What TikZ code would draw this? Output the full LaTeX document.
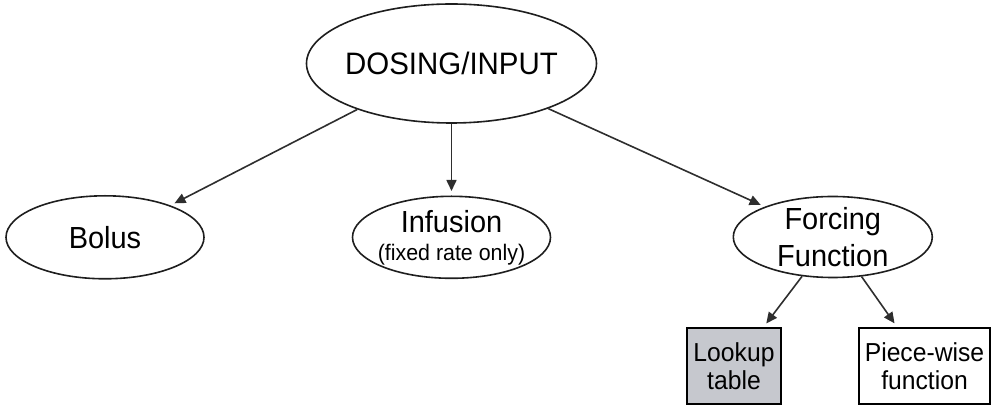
\documentclass[tikz,border=0pt]{standalone}
\usepackage{fontspec}
\setmainfont{Liberation Sans}[FakeStretch=0.95]
\usetikzlibrary{shapes.geometric,arrows.meta}
\definecolor{linec}{HTML}{1E1E1E}
\definecolor{arrc}{HTML}{2E2E2E}
\definecolor{lookfill}{HTML}{C6C8CE}
\tikzset{
  oval/.style={ellipse, draw=linec, line width=1.6pt, inner sep=-30pt, fill=white, align=center},
  sqbox/.style={rectangle, draw=black, line width=1.9pt, inner sep=0pt, align=center,
    minimum height=76pt},
  conn/.style={draw=arrc, line width=1.6pt, -{Triangle[length=11pt,width=10pt]}, shorten >=4.5pt},
  bigtxt/.style={font=\fontsize{31}{37}\selectfont},
  midtxt/.style={font=\fontsize{30.5}{37.5}\selectfont},
  boxtxt/.style={font=\fontsize{26}{28.5}\selectfont}
}
\begin{document}
\begin{tikzpicture}[x=1pt,y=-1pt]
\useasboundingbox (0,0) rectangle (996,411);
\node[oval, bigtxt, minimum width=290pt, minimum height=119pt] (dos) at (451.5,63.5) {DOSING/INPUT};
\node[oval, midtxt, minimum width=198pt, minimum height=83pt] (bol) at (105,237.3) {Bolus};
\node[oval, minimum width=198pt, minimum height=82pt, font=\fontsize{30.5}{30}\selectfont] (inf) at (451.5,237.3)
  {\raisebox{-2pt}{Infusion}\\\fontsize{22.5}{26.7}\selectfont (fixed rate only)};
\node[oval, midtxt, minimum width=199pt, minimum height=81pt] (ff) at (832.8,237) {Forcing\\Function};
\node[sqbox, boxtxt, fill=lookfill, minimum width=94pt] (lut) at (734,366) {Lookup\\table};
\node[sqbox, boxtxt, fill=white, minimum width=131pt] (pwf) at (924.5,366) {Piece-wise\\function};
\draw[conn] (dos.206) -- (bol.26);
\draw[conn] (dos.south) -- (inf.north);
\draw[conn] (dos.335) -- (ff.156);
\draw[conn] (ff.232) -- (lut);
\draw[conn] (ff.306) -- (pwf);
\end{tikzpicture}
\end{document}
